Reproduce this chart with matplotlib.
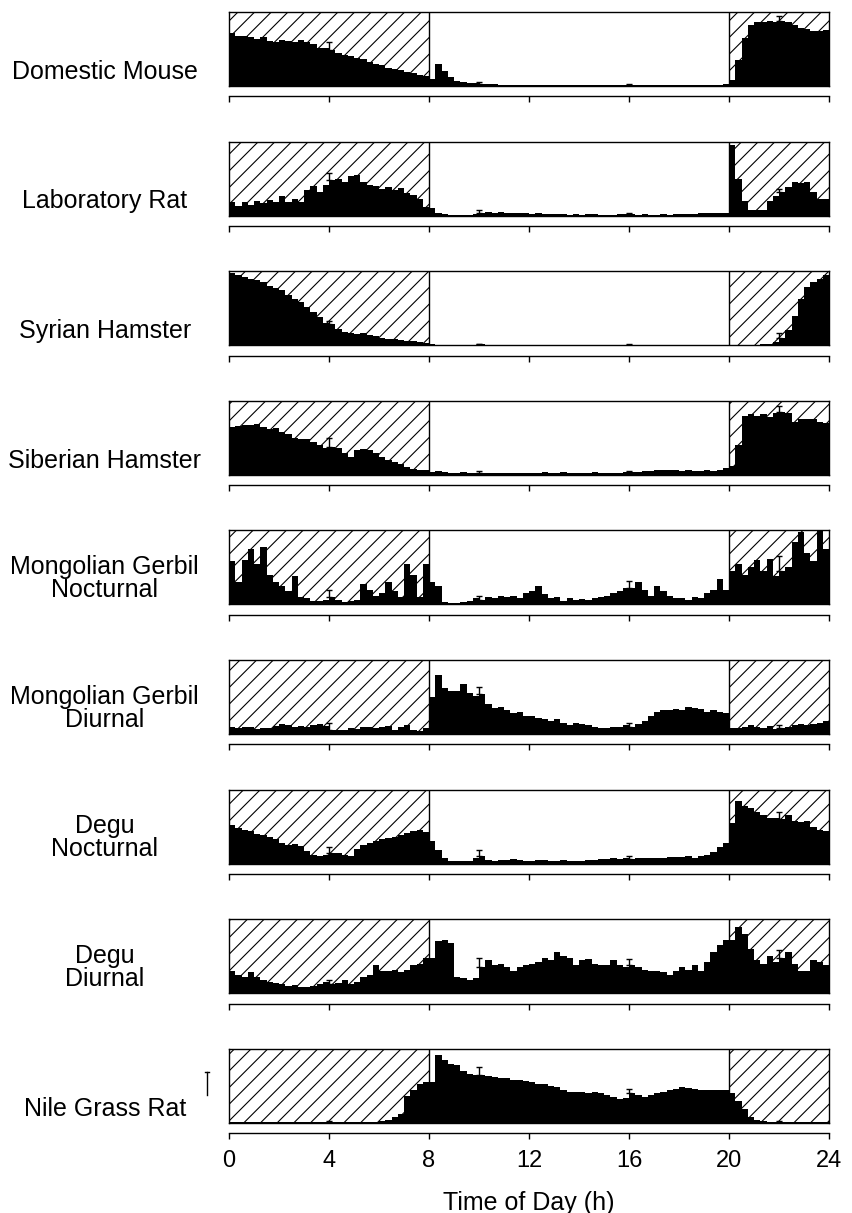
import matplotlib.pyplot as plt
import numpy as np

plt.rcParams['font.family'] = ['Liberation Sans', 'DejaVu Sans']
plt.rcParams['hatch.linewidth'] = 0.8

# 15-min activity bins over 24 h (relative units, 0-100)
species = [
    "Domestic Mouse",
    "Laboratory Rat",
    "Syrian Hamster",
    "Siberian Hamster",
    "Mongolian Gerbil\nNocturnal",
    "Mongolian Gerbil\nDiurnal",
    "Degu\nNocturnal",
    "Degu\nDiurnal",
    "Nile Grass Rat",
]

mouse = [71, 68, 67, 66, 63, 66, 61, 60, 62, 61, 60, 62, 60, 57, 52, 51,
         48, 45, 42, 40, 38, 36, 33, 30, 28, 25, 23, 21, 19, 17, 15, 14,
         10, 30, 20, 12, 7, 5, 4, 4, 3, 3, 3, 2, 2, 2, 2, 2,
         2, 1, 2, 2, 1, 2, 2, 1, 2, 1, 1, 2, 1, 2, 1, 1,
         2, 1, 2, 1, 1, 2, 2, 1, 2, 2, 1, 2, 2, 2, 2, 3,
         8, 35, 65, 82, 86, 87, 88, 87, 88, 86, 82, 79, 77, 75, 74, 76]

rat = [19, 13, 18, 15, 20, 17, 21, 18, 27, 19, 22, 18, 35, 40, 32, 42,
       48, 50, 46, 53, 55, 45, 42, 40, 36, 38, 34, 37, 30, 28, 22, 12,
       10, 3, 2, 1, 1, 1, 1, 2, 4, 5, 4, 5, 4, 4, 3, 3,
       2, 3, 2, 2, 2, 2, 1, 2, 1, 2, 2, 1, 1, 1, 2, 2,
       2, 1, 2, 1, 1, 2, 1, 2, 2, 2, 2, 3, 3, 3, 4, 4,
       95, 50, 20, 8, 7, 8, 20, 26, 32, 38, 45, 44, 46, 32, 22, 22]

syrian = [98, 95, 92, 90, 88, 85, 80, 77, 75, 68, 62, 58, 52, 45, 38, 30,
          28, 22, 18, 16, 15, 16, 14, 12, 10, 9, 8, 7, 6, 5, 4, 3,
          1, 0.5, 0.5, 0.5, 0.5, 0.5, 0.5, 0.5, 1, 0.5, 0.5, 0.5, 0.5, 0.5, 0.5, 0.5,
          0.5, 0.5, 0.5, 0.5, 0.5, 0.5, 0.5, 0.5, 0.5, 0.5, 0.5, 0.5, 0.5, 0.5, 0.5, 0.5,
          0.5, 0.5, 0.5, 0.5, 0.5, 0.5, 0.5, 0.5, 0.5, 0.5, 0.5, 0.5, 0.5, 0.5, 0.5, 0.5,
          0, 0, 0, 0, 0, 1, 2, 4, 10, 20, 40, 62, 79, 86, 90, 95]

siberian = [65, 66, 67, 67, 69, 64, 62, 63, 58, 55, 50, 48, 48, 44, 40, 36,
            38, 36, 30, 24, 33, 35, 33, 30, 24, 20, 17, 14, 10, 8, 7, 6,
            4, 5, 4, 3, 3, 4, 3, 3, 3, 3, 2, 3, 2, 3, 3, 2,
            3, 3, 4, 3, 3, 4, 3, 3, 3, 3, 4, 3, 3, 3, 3, 4,
            4, 4, 5, 5, 7, 6, 7, 6, 5, 6, 5, 5, 6, 5, 6, 9,
            12, 40, 80, 82, 80, 82, 78, 83, 85, 83, 72, 75, 76, 75, 72, 70]

gerbil_noct = [58, 30, 60, 75, 55, 78, 40, 30, 25, 18, 38, 10, 8, 5, 4, 6,
               10, 6, 3, 4, 6, 28, 20, 12, 15, 30, 18, 10, 55, 40, 10, 55,
               30, 25, 3, 2, 2, 3, 5, 8, 6, 10, 8, 12, 10, 12, 8, 15,
               18, 25, 14, 8, 10, 5, 8, 6, 7, 6, 8, 10, 12, 15, 18, 22,
               22, 30, 20, 12, 25, 18, 12, 8, 9, 6, 10, 8, 15, 20, 35, 20,
               45, 55, 40, 50, 60, 45, 62, 38, 45, 50, 85, 98, 70, 58, 100, 75]

gerbil_diur = [10, 8, 9, 10, 7, 8, 8, 11, 14, 12, 10, 11, 9, 12, 14, 11,
               5, 6, 5, 8, 7, 10, 9, 8, 9, 11, 6, 10, 12, 6, 4, 8,
               50, 80, 62, 58, 58, 68, 55, 52, 54, 40, 35, 36, 33, 28, 30, 25,
               25, 22, 20, 18, 20, 15, 12, 15, 13, 12, 10, 8, 8, 9, 10, 12,
               10, 14, 18, 25, 30, 32, 32, 34, 32, 36, 35, 34, 30, 33, 30, 28,
               8, 8, 10, 12, 10, 8, 11, 7, 8, 10, 12, 14, 12, 14, 15, 18]

degu_noct = [52, 48, 46, 44, 40, 38, 36, 33, 28, 25, 26, 24, 17, 12, 10, 11,
             14, 14, 11, 10, 20, 25, 28, 30, 33, 34, 36, 38, 42, 44, 45, 43,
             30, 18, 8, 4, 3, 3, 4, 8, 10, 5, 4, 5, 5, 6, 5, 4,
             4, 5, 5, 4, 4, 5, 4, 3, 4, 5, 5, 6, 6, 7, 6, 7,
             6, 7, 8, 7, 8, 8, 9, 9, 9, 10, 8, 10, 12, 15, 22, 28,
             55, 85, 78, 75, 70, 65, 62, 62, 60, 65, 58, 56, 58, 50, 45, 44]

degu_diur = [30, 25, 22, 28, 22, 18, 15, 14, 12, 10, 11, 8, 8, 10, 12, 15,
             12, 14, 18, 12, 15, 22, 25, 38, 30, 30, 32, 28, 32, 38, 40, 48,
             48, 70, 72, 68, 22, 20, 18, 20, 35, 45, 38, 40, 35, 30, 35, 38,
             40, 42, 48, 45, 55, 50, 48, 38, 45, 46, 40, 38, 38, 45, 38, 35,
             38, 35, 32, 30, 30, 28, 25, 30, 35, 32, 38, 30, 42, 55, 65, 72,
             72, 90, 80, 60, 45, 40, 50, 42, 48, 55, 40, 30, 30, 45, 42, 38]

nile = [1, 1, 1, 1, 1, 1, 1, 1, 1, 1, 1, 1, 1, 1, 1, 1,
        1, 1, 1, 1, 1, 1, 1, 1, 2, 4, 8, 12, 36, 45, 52, 55,
        55, 92, 85, 80, 78, 70, 66, 65, 64, 63, 62, 60, 60, 58, 58, 56,
        55, 52, 52, 50, 48, 45, 42, 42, 42, 40, 42, 40, 38, 35, 32, 33,
        40, 38, 35, 38, 40, 42, 44, 46, 48, 47, 46, 45, 44, 44, 44, 45,
        40, 30, 18, 8, 4, 2, 1, 1, 1, 1, 1, 1, 1, 1, 1, 1]

activity = [mouse, rat, syrian, siberian, gerbil_noct,
            gerbil_diur, degu_noct, degu_diur, nile]

# SEM shown once per 6 h
err_hours = [4, 10, 16, 22]
sem = [
    [12, 3, 1, 6],
    [10, 4, 1, 4],
    [5, 1, 0.5, 6],
    [12, 2, 1, 8],
    [10, 6, 10, 20],
    [10, 10, 5, 4],
    [8, 8, 4, 10],
    [6, 12, 8, 10],
    [2, 12, 6, 1],
]

edges = np.arange(0, 24.01, 0.25)

W, H = 852, 1213
fig = plt.figure(figsize=(W / 100, H / 100), dpi=100)

left_px, width_px, height_px = 229, 600, 74
pitch = 129.6

for i, (name, vals) in enumerate(zip(species, activity)):
    top_px = 12 + pitch * i
    ax = fig.add_axes([left_px / W, 1 - (top_px + height_px) / H,
                       width_px / W, height_px / H])

    # dark phases
    for x0, x1 in [(0, 8), (20, 24)]:
        ax.axvspan(x0, x1, facecolor='none', edgecolor='black',
                   hatch='//', linewidth=0, zorder=0)
    ax.axvline(8, color='black', lw=1, zorder=3)
    ax.axvline(20, color='black', lw=1, zorder=3)

    ax.stairs(vals, edges, fill=True, color='black', zorder=2)

    # error bars (upper only)
    ys = [vals[int(h * 4)] for h in err_hours]
    ax.errorbar(err_hours, ys, yerr=[np.zeros(4), sem[i]], fmt='none',
                ecolor='black', elinewidth=1, capsize=2.5, capthick=1, zorder=4)

    ax.set_xlim(0, 24)
    ax.set_ylim(0, 100)
    ax.axhline(0, color='black', lw=1, clip_on=False, zorder=3)

    for s in ['top', 'left', 'right']:
        ax.spines[s].set_linewidth(1)
    ax.spines['bottom'].set_position(('outward', 7.5))
    ax.spines['bottom'].set_linewidth(1)
    ax.set_yticks([])
    ax.set_xticks([0, 4, 8, 12, 16, 20, 24])
    ax.tick_params(axis='x', direction='out', length=4, width=1,
                   labelsize=17, pad=8)
    if i < len(species) - 1:
        ax.set_xticklabels([])

    ax.text(-0.207, 0.03, name, transform=ax.transAxes, ha='center',
            va='bottom', multialignment='center', fontsize=18,
            linespacing=0.95)

# scale bar next to the last panel
ax.plot([-0.88, -0.88], [38, 69], color='black', lw=1, clip_on=False)
ax.plot([-0.96, -0.80], [69, 69], color='black', lw=1, clip_on=False)

ax.set_xlabel("Time of Day (h)", fontsize=18, labelpad=14)

fig.savefig("out.png", dpi=100)
